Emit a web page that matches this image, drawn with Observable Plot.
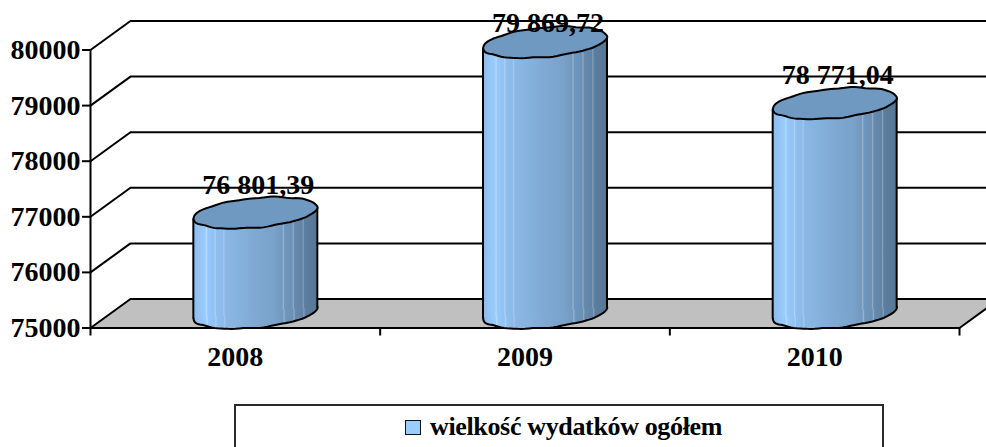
<!DOCTYPE html>
<html>
<head>
<meta charset="utf-8">
<style>
html,body{margin:0;padding:0;background:#fff;overflow:hidden;height:447px;width:986px}
#legend{position:absolute;left:234px;top:404px;width:646px;height:80px;border:2px solid #2a2a2a;background:#fff;font:bold 26px "Liberation Serif",serif;color:#000}
#swatch{position:absolute;left:169px;top:14px;width:14px;height:13px;background:#99ccff;border:1.5px solid #111}
#legendText{position:absolute;left:194px;top:6px;white-space:nowrap;letter-spacing:-.35px}
</style>
<script src="https://cdn.jsdelivr.net/npm/d3@7"></script>
<script src="https://cdn.jsdelivr.net/npm/@observablehq/plot@0.6"></script>
</head>
<body>
<div id="chart"></div>
<div id="legend"><span id="swatch"></span><span id="legendText"></span></div>
<script>
const years = [2008, 2009, 2010];
const values = [76801.39, 79869.72, 78771.04];
const valueLabels = ["76 801,39", "79 869,72", "78 771,04"];
const yTicks = [75000, 76000, 77000, 78000, 79000, 80000];
const xEdges = [0, 1, 2, 3];
const xCentres = [0.5, 1.5, 2.5];
const seriesName = "wielkość wydatków ogółem";

const depthX = 0.138, depthY = 521.6, halfW = 0.214, tilt = 99, labelCeil = 79703;
const serif = '"Liberation Serif", serif';

const bars = years.map((year, i) => ({year, value: values[i], label: valueLabels[i], c: xCentres[i]}));
const bodyPts = bars.flatMap(d => [
  {year: d.year, x: d.c - halfW, base: 75000 - tilt, top: d.value - tilt},
  {year: d.year, x: d.c + halfW, base: 75000 + tilt, top: d.value + tilt}
]);
const floorPts = [
  {x: 0, y: 75000}, {x: depthX, y: 75000 + depthY},
  {x: 3 + depthX, y: 75000 + depthY}, {x: 3, y: 75000}, {x: 0, y: 75000}
];

// slightly uneven tilted ellipse, as in the rasterised original
const capSymbol = {
  draw(ctx) {
    const n = 96;
    for (let k = 0; k <= n; k++) {
      const t = k / n * 2 * Math.PI;
      const w = 1 + 0.025 * Math.sin(9 * t + 1) + 0.018 * Math.sin(14 * t);
      const px = 62 * Math.cos(t) * (1 + 0.005 * Math.sin(9 * t + 1));
      const py = (-5.5 * Math.cos(t) + 14.8 * Math.sin(t)) * w;
      k ? ctx.lineTo(px, py) : ctx.moveTo(px, py);
    }
    ctx.closePath();
  }
};

const stops = [
  [0, "#8db9e8"], [.04, "#93c2f3"], [.1, "#99ccff"], [.11, "#b5dcff"], [.12, "#96c8fb"],
  [.17, "#92c2f3"], [.18, "#aed3f5"], [.19, "#8fbeee"], [.24, "#8dbaea"], [.25, "#a5c8ea"], [.26, "#8ab7e5"],
  [.4, "#84b0dc"], [.5, "#7fa9d3"], [.65, "#7aa2ca"], [.72, "#7299c0"], [.73, "#9ab4cf"], [.74, "#6f96bc"],
  [.8, "#6a90b5"], [.81, "#91abc5"], [.82, "#668aae"], [.88, "#6083a6"], [.89, "#86a0b9"], [.9, "#5c7e9f"],
  [1, "#567694"]
];
const gradient = () => {
  const defs = d3.create("svg:defs");
  const g = defs.append("linearGradient").attr("id", "cyl").attr("x1", 0).attr("x2", 1).attr("y1", 0).attr("y2", 0);
  stops.forEach(([o, c]) => g.append("stop").attr("offset", o).attr("stop-color", c));
  return defs.node();
};

const cyl = {dx: 20, dy: -15};
const chart = Plot.plot({
  width: 986, height: 400,
  marginLeft: 90, marginRight: 27, marginTop: 49.5, marginBottom: 72.5,
  x: {type: "linear", domain: [0, 3], range: [90, 959]},
  y: {type: "linear", domain: [75000, 80000], range: [327.5, 49.5]},
  style: {fontFamily: serif, fontSize: "28px", fontWeight: "bold", color: "#000", background: "transparent", overflow: "visible"},
  marks: [
    gradient,
    Plot.line(floorPts, {x: "x", y: "y", fill: "#c0c0c0", stroke: "#000", strokeWidth: 2}),
    Plot.ruleY(yTicks.slice(1), {y: d => d, x1: depthX, x2: 3 + depthX, dy: -29, stroke: "#000", strokeWidth: 2}),
    Plot.link(yTicks.slice(1), {x1: 0, x2: depthX, y1: d => d, y2: d => d + depthY, stroke: "#000", strokeWidth: 2}),
    Plot.ruleX([0], {y1: 75000, y2: 80000, stroke: "#000", strokeWidth: 2}),
    Plot.axisY({ticks: yTicks, tickFormat: d3.format("d"), tickSize: 8, tickPadding: 2, label: null, stroke: "#000", strokeWidth: 2, fill: "#000"}),
    Plot.axisX({ticks: xEdges, tickFormat: () => "", tickSize: 8, label: null, stroke: "#000", strokeWidth: 2}),
    Plot.axisX({ticks: xCentres, tickFormat: d => String(years[Math.floor(d)]), tickSize: 0, tickPadding: 18, label: null, stroke: "none", fill: "#000"}),
    Plot.dot(bars, {x: "c", y: 75000, symbol: capSymbol, r: 10, fill: "url(#cyl)", stroke: "#000", strokeWidth: 2, ...cyl}),
    Plot.area(bodyPts, {x1: "x", y1: "base", y2: "top", z: "year", fill: "url(#cyl)", ...cyl}),
    Plot.link(bodyPts, {x1: "x", x2: "x", y1: "base", y2: "top", stroke: "#000", strokeWidth: 2, ...cyl}),
    Plot.dot(bars, {x: "c", y: "value", symbol: capSymbol, r: 10, fill: "#7099c1", stroke: "#000", strokeWidth: 2, ...cyl}),
    Plot.text(bars, {x: "c", y: d => Math.min(d.value, labelCeil), text: "label", dx: 23, dy: -43, fill: "#000", stroke: "none", fontSize: 28, fontWeight: "bold"})
  ]
});
document.getElementById("chart").append(chart);
document.getElementById("legendText").textContent = seriesName;
</script>
</body>
</html>
